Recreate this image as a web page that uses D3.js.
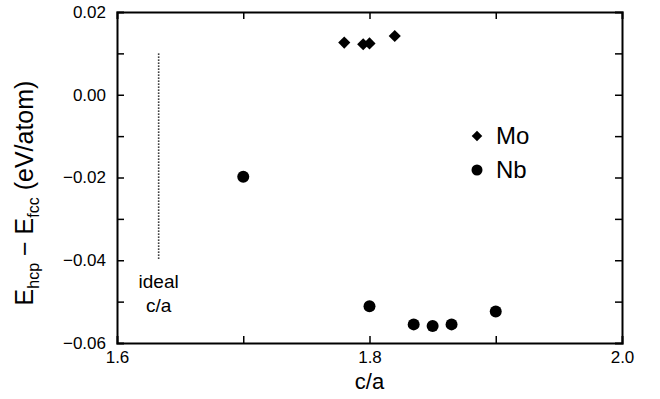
<!DOCTYPE html>
<html>
<head>
<meta charset="utf-8">
<script src="https://cdn.jsdelivr.net/npm/d3@7/dist/d3.min.js"></script>
<style>
  html, body { margin: 0; padding: 0; background: #fff; }
  svg { display: block; font-family: "Liberation Sans", Arial, Helvetica, sans-serif; }
</style>
</head>
<body>
<svg id="chart" width="660" height="399"></svg>
<script>
// Energy difference between hcp and fcc stacking vs. c/a ratio
const moCA = [1.78, 1.795, 1.80, 1.82];
const moE  = [0.0126, 0.0122, 0.0124, 0.0142];
const nbCA = [1.70, 1.80, 1.835, 1.85, 1.865, 1.90];
const nbE  = [-0.0198, -0.0511, -0.0555, -0.0559, -0.0555, -0.0524];

const xTicks = [1.6, 1.7, 1.8, 1.9, 2.0];
const xTickLabels = ["1.6", "", "1.8", "", "2.0"];
const yTicks = [-0.06, -0.05, -0.04, -0.03, -0.02, -0.01, 0.00, 0.01, 0.02];
const yTickLabels = ["\u22120.06", "", "\u22120.04", "", "\u22120.02", "", "0.00", "", "0.02"];

const idealCA = 1.633;
const idealRange = [-0.04, 0.01];

const svg = d3.select("#chart");
const frame = { left: 117, right: 622, top: 12, bottom: 343 };

const x = d3.scaleLinear().domain([1.6, 2.0]).range([frame.left, frame.right]);
const y = d3.scaleLinear().domain([-0.06, 0.02]).range([frame.bottom, frame.top]);

const tickLen = 7;

// Axes with inward ticks on all four sides
const gB = svg.append("g").attr("transform", `translate(0,${frame.bottom})`)
  .call(d3.axisBottom(x).tickValues(xTicks).tickSize(-tickLen).tickPadding(8)
    .tickFormat((d, i) => xTickLabels[i]));
const gT = svg.append("g").attr("transform", `translate(0,${frame.top})`)
  .call(d3.axisTop(x).tickValues(xTicks).tickSize(-tickLen).tickFormat(""));
const gL = svg.append("g").attr("transform", `translate(${frame.left},0)`)
  .call(d3.axisLeft(y).tickValues(yTicks).tickSize(-tickLen).tickPadding(11)
    .tickFormat((d, i) => yTickLabels[i]));
const gR = svg.append("g").attr("transform", `translate(${frame.right},0)`)
  .call(d3.axisRight(y).tickValues(yTicks).tickSize(-tickLen).tickFormat(""));

[gB, gT, gL, gR].forEach(g => {
  g.select(".domain").attr("stroke", "#000").attr("stroke-width", 2);
  g.selectAll(".tick line").attr("stroke", "#000").attr("stroke-width", 1.5);
  g.selectAll(".tick text").attr("fill", "#000").style("font-size", "17px")
    .style("font-family", "'Liberation Sans', Arial, sans-serif");
});
// end ticks coincide with the frame
gB.selectAll(".tick line").filter(d => d === 1.6 || d === 2.0).remove();
gT.selectAll(".tick line").filter(d => d === 1.6 || d === 2.0).remove();
gL.selectAll(".tick line").filter(d => d === -0.06 || d === 0.02).remove();
gR.selectAll(".tick line").filter(d => d === -0.06 || d === 0.02).remove();

// Ideal c/a reference line
svg.append("line")
  .attr("x1", x(idealCA)).attr("x2", x(idealCA))
  .attr("y1", y(idealRange[1])).attr("y2", y(idealRange[0]))
  .attr("stroke", "#000").attr("stroke-width", 1.6)
  .attr("stroke-dasharray", "1.4,1.6");

svg.append("text").attr("x", x(idealCA)).attr("y", 288)
  .attr("text-anchor", "middle").style("font-size", "19px").text("ideal");
svg.append("text").attr("x", x(idealCA)).attr("y", 312)
  .attr("text-anchor", "middle").style("font-size", "19px").text("c/a");

// Data markers
const diamond = d3.symbol().type(d3.symbolSquare).size(74);
svg.append("g").selectAll("path").data(moCA.map((c, i) => [c, moE[i]]))
  .join("path")
  .attr("d", diamond)
  .attr("transform", d => `translate(${x(d[0])},${y(d[1])}) rotate(45)`)
  .attr("fill", "#000");

svg.append("g").selectAll("circle").data(nbCA.map((c, i) => [c, nbE[i]]))
  .join("circle")
  .attr("cx", d => x(d[0])).attr("cy", d => y(d[1])).attr("r", 6)
  .attr("fill", "#000");

// Legend
const lgX = 477;
svg.append("path").attr("d", d3.symbol().type(d3.symbolSquare).size(56)())
  .attr("transform", `translate(${lgX},136) rotate(45)`).attr("fill", "#000");
svg.append("text").attr("x", 496).attr("y", 143.5).style("font-size", "24px").text("Mo");
svg.append("circle").attr("cx", lgX).attr("cy", 170).attr("r", 5.5).attr("fill", "#000");
svg.append("text").attr("x", 496).attr("y", 178).style("font-size", "24px").text("Nb");

// Axis titles
svg.append("text").attr("x", (frame.left + frame.right) / 2).attr("y", 389)
  .attr("text-anchor", "middle").style("font-size", "22px").text("c/a");

const yt = svg.append("text")
  .attr("transform", "translate(33,193) rotate(-90)")
  .attr("text-anchor", "middle").style("font-size", "25px");
yt.append("tspan").text("E");
yt.append("tspan").attr("dy", 6).style("font-size", "16px").text("hcp");
yt.append("tspan").attr("dy", -6).text(" \u2212 E");
yt.append("tspan").attr("dy", 6).style("font-size", "16px").text("fcc");
yt.append("tspan").attr("dy", -6).text(" (eV/atom)");
</script>
</body>
</html>
